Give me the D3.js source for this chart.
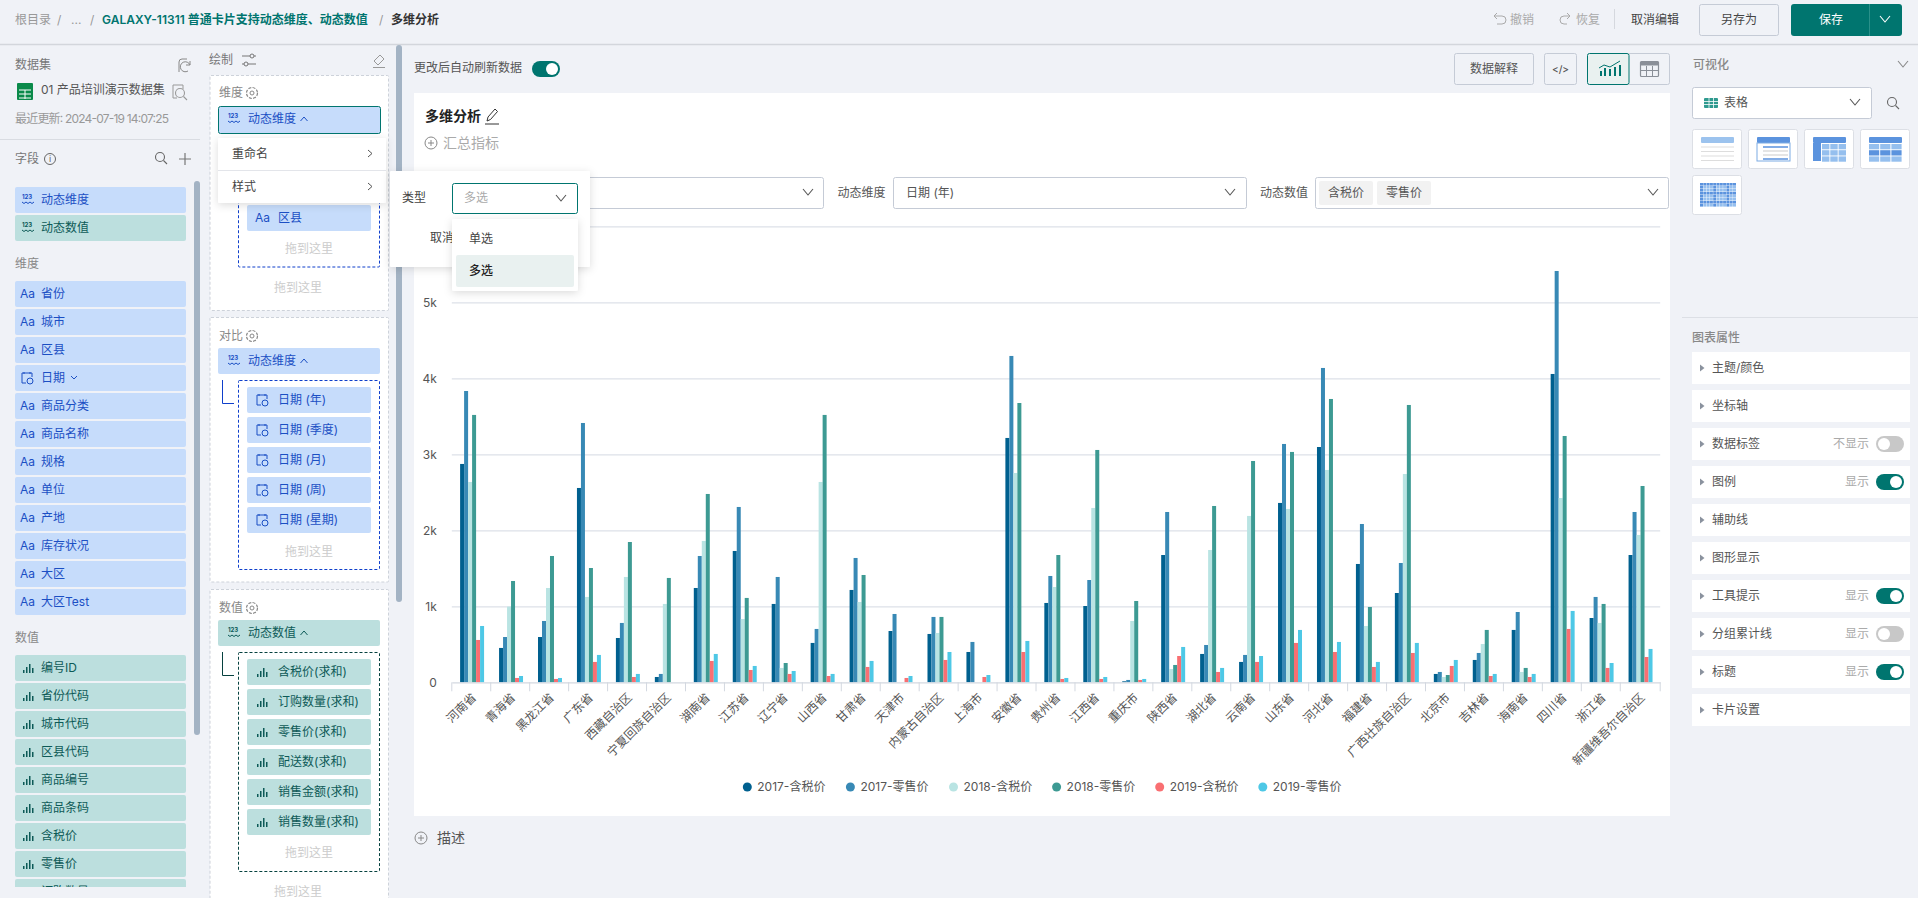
<!DOCTYPE html>
<html>
<head>
<meta charset="utf-8">
<script src="https://cdn.jsdelivr.net/npm/d3@7"></script>
<style>
html, body { margin: 0; padding: 0; background: #f0f2f7; overflow: hidden; }
svg { display: block; font-family: Inter, 'Noto Sans CJK SC', sans-serif; }
</style>
</head>
<body>
<svg id="page" width="1918" height="898"></svg>
<script>
const teal = '#00756f';
const blueText = '#1b4fc4';
const tealText = '#0d5a57';
const chipBlue = '#c6dcfb';
const chipTeal = '#bcdfde';
const border = '#c5cbd6';

// values: 2017 / 2018 / 2019, tax price and retail price
const seriesNames = ['2017-含税价', '2017-零售价', '2018-含税价', '2018-零售价', '2019-含税价', '2019-零售价'];
const seriesColours = ['#00608f', '#3889b5', '#b9e4e3', '#3d9a93', '#f96f72', '#4ec8e6'];
const plotData = [
    { name: '河南省', v: [2873, 3833, 2636, 3518, 557, 741] },
    { name: '青海省', v: [452, 596, 996, 1333, 57, 83] },
    { name: '黑龙江省', v: [596, 807, 1241, 1662, 44, 57] },
    { name: '广东省', v: [2557, 3412, 1123, 1504, 268, 360] },
    { name: '西藏自治区', v: [583, 781, 1386, 1846, 70, 110] },
    { name: '宁夏回族自治区', v: [70, 110, 1031, 1373, 0, 0] },
    { name: '湖南省', v: [1241, 1662, 1860, 2478, 281, 373] },
    { name: '江苏省', v: [1728, 2307, 833, 1110, 162, 215] },
    { name: '辽宁省', v: [1031, 1386, 189, 254, 110, 149] },
    { name: '山西省', v: [518, 702, 2636, 3518, 83, 110] },
    { name: '甘肃省', v: [1215, 1636, 1057, 1412, 202, 281] },
    { name: '天津市', v: [675, 899, 0, 0, 57, 83] },
    { name: '内蒙古自治区', v: [636, 860, 649, 860, 294, 399] },
    { name: '上海市', v: [399, 531, 0, 0, 70, 96] },
    { name: '安徽省', v: [3215, 4294, 2754, 3675, 399, 544] },
    { name: '贵州省', v: [1044, 1399, 1254, 1675, 44, 57] },
    { name: '江西省', v: [1004, 1346, 2294, 3057, 44, 70] },
    { name: '重庆市', v: [13, 31, 807, 1070, 31, 44] },
    { name: '陕西省', v: [1675, 2241, 175, 228, 346, 465] },
    { name: '湖北省', v: [373, 491, 1741, 2320, 136, 189] },
    { name: '云南省', v: [268, 360, 2189, 2912, 268, 346] },
    { name: '山东省', v: [2360, 3136, 2281, 3031, 518, 689] },
    { name: '河北省', v: [3096, 4136, 2794, 3728, 399, 531] },
    { name: '福建省', v: [1557, 2083, 741, 991, 202, 268] },
    { name: '广西壮族自治区', v: [1175, 1570, 2741, 3649, 386, 518] },
    { name: '北京市', v: [110, 136, 70, 96, 215, 294] },
    { name: '吉林省', v: [294, 386, 504, 689, 83, 110] },
    { name: '海南省', v: [689, 925, 136, 189, 70, 110] },
    { name: '四川省', v: [4057, 5412, 2425, 3241, 702, 939] },
    { name: '浙江省', v: [846, 1123, 781, 1031, 189, 254] },
    { name: '新疆维吾尔自治区', v: [1675, 2241, 1939, 2583, 333, 439] },
];

const svg = d3.select('#page');

// small helpers for the app chrome around the chart
const rect = (g, x, y, w, h, fill, opts = {}) => g.append('rect')
    .attr('x', x).attr('y', y).attr('width', w).attr('height', h)
    .attr('rx', opts.rx === undefined ? 2 : opts.rx)
    .attr('fill', fill)
    .attr('stroke', opts.stroke || 'none')
    .attr('stroke-width', opts.sw || 1)
    .attr('stroke-dasharray', opts.dash || null)
    .attr('filter', opts.shadow ? 'url(#shadow)' : null);
const text = (g, x, y, s, fill = '#555', size = 12, opts = {}) => g.append('text')
    .attr('x', x).attr('y', y)
    .attr('dy', '0.36em')
    .attr('fill', fill)
    .attr('font-size', size)
    .attr('font-weight', opts.weight || 400)
    .attr('text-anchor', opts.anchor || 'start')
    .text(s);
const stroke = (g, d, col = '#555', sw = 1) => g.append('path')
    .attr('d', d).attr('fill', 'none').attr('stroke', col).attr('stroke-width', sw);
const chevron = (g, x, y, col = '#555') => stroke(g, `M${x - 5},${y - 3}L${x},${y + 3}L${x + 5},${y - 3}`, col, 1.1);
const caretUp = (g, x, y, col) => stroke(g, `M${x - 3.5},${y + 2}L${x},${y - 2}L${x + 3.5},${y + 2}`, col, 1);
const toggle = (g, x, y, on) => {
    rect(g, x, y, 28, 16, on ? teal : '#c8c8c8', { rx: 8 });
    g.append('circle').attr('cx', on ? x + 20 : x + 8).attr('cy', y + 8).attr('r', 6).attr('fill', '#fff');
};
const gear = (g, x, y) => {
    g.append('circle').attr('cx', x).attr('cy', y).attr('r', 5.5).attr('fill', 'none').attr('stroke', '#888').attr('stroke-width', 1.2).attr('stroke-dasharray', '3 1.3');
    g.append('circle').attr('cx', x).attr('cy', y).attr('r', 2).attr('fill', 'none').attr('stroke', '#888');
};
const dynIcon = (g, x, y, col) => {
    text(g, x, y - 3, '123', col, 6, { weight: 700 });
    stroke(g, `M${x},${y + 2}q2,3 4,0q2,3 4,0q2,3 4,0`, col, 1);
};
const aaIcon = (g, x, y) => text(g, x, y, 'Aa', blueText, 12);
const barIcon = (g, x, y, col = tealText) => {
    [3, 6, 9, 5].forEach((h, i) => rect(g, x + i * 3, y + 5 - h, 1.5, h, col, { rx: 0 }));
};
const dateIcon = (g, x, y) => {
    stroke(g, `M${x + 3},${y + 5}h-4v-10h10v4M${x + 1},${y - 6}v2M${x + 7},${y - 6}v2`, blueText, 1);
    g.append('circle').attr('cx', x + 7).attr('cy', y + 3).attr('r', 3).attr('fill', 'none').attr('stroke', blueText);
};
const plusCircle = (g, x, y) => {
    g.append('circle').attr('cx', x).attr('cy', y).attr('r', 6).attr('fill', 'none').attr('stroke', '#888');
    stroke(g, `M${x - 3},${y}h6M${x},${y - 3}v6`, '#888', 1);
};
const search = (g, x, y, col = '#666') => {
    g.append('circle').attr('cx', x - 1).attr('cy', y - 1).attr('r', 4.5).attr('fill', 'none').attr('stroke', col).attr('stroke-width', 1.1);
    stroke(g, `M${x + 2.5},${y + 2.5}l3.5,3.5`, col, 1.1);
};

const defs = svg.append('defs');
const shadow = defs.append('filter').attr('id', 'shadow').attr('x', '-10%').attr('y', '-15%').attr('width', '120%').attr('height', '130%');
shadow.append('feDropShadow').attr('dx', 0).attr('dy', 2).attr('stdDeviation', 4).attr('flood-color', '#000').attr('flood-opacity', 0.14);
const leftClip = defs.append('clipPath').attr('id', 'leftClip');
leftClip.append('rect').attr('x', 0).attr('y', 170).attr('width', 192).attr('height', 717);

// top bar
const topBar = svg.append('g');
stroke(topBar, 'M0,44.5H1918', '#d3d6dc', 1.5);
text(topBar, 15, 20, '根目录', '#999');
text(topBar, 57, 20, '/', '#999');
text(topBar, 71, 20, '...', '#999');
text(topBar, 90, 20, '/', '#999');
text(topBar, 102, 20, 'GALAXY-11311 普通卡片支持动态维度、动态数值', teal, 12, { weight: 600 });
text(topBar, 379, 20, '/', '#999');
text(topBar, 391, 20, '多维分析', '#333', 12, { weight: 600 });
stroke(topBar, 'M1495,16h7a4,4 0 0 1 0,8h-5M1497,13l-3,3l3,3', '#aaa');
text(topBar, 1510, 20, '撤销', '#aaa');
stroke(topBar, 'M1569,16h-5a4,4 0 0 0 0,8h3M1567,13l3,3l-3,3', '#aaa');
text(topBar, 1576, 20, '恢复', '#aaa');
stroke(topBar, 'M1614.5,9V29', '#d5d8de');
text(topBar, 1631, 20, '取消编辑', '#444');
rect(topBar, 1699.5, 4.5, 79, 31, '#f0f2f7', { stroke: border });
text(topBar, 1739, 20, '另存为', '#444', 12, { anchor: 'middle' });
rect(topBar, 1791, 4, 111, 32, teal, { rx: 3 });
stroke(topBar, 'M1869.5,4V36', '#2a908a');
text(topBar, 1831, 20, '保存', '#fff', 12, { anchor: 'middle' });
chevron(topBar, 1885, 19, '#fff');

// left panel: dataset and fields
const leftPanel = svg.append('g');
text(leftPanel, 15, 65, '数据集', '#777');
stroke(leftPanel, 'M179,72v-10q0,-3 3,-3h5M190,65a5,5 0 1 0 -2,6M190,61v4h-4', '#888');
rect(leftPanel, 17, 83, 16, 17, '#0a8a4a', { rx: 1 });
stroke(leftPanel, 'M19,90h12M19,94h12M19,98h12M25,90v9', '#fff');
text(leftPanel, 41, 90, '01 产品培训演示数据集', '#555');
stroke(leftPanel, 'M177,98h-4v-13h10v4', '#999');
search(leftPanel, 181, 94, '#999');
text(leftPanel, 15, 119, '最近更新: 2024-07-19 14:07:25', '#999', 12).attr('textLength', 154).attr('lengthAdjust', 'spacing');
stroke(leftPanel, 'M0,139.5H200', '#d9dce2');
text(leftPanel, 15, 159, '字段', '#777');
leftPanel.append('circle').attr('cx', 50).attr('cy', 159).attr('r', 5.5).attr('fill', 'none').attr('stroke', '#666');
text(leftPanel, 50, 159, 'i', '#666', 9, { anchor: 'middle' });
search(leftPanel, 161, 158);
stroke(leftPanel, 'M179,159h12M185,153v12', '#777', 1.2);

const leftList = leftPanel.append('g').attr('clip-path', 'url(#leftClip)');
const fieldChip = (y, label, kind) => {
    const isBlue = kind !== 'num' && kind !== 'dynNum';
    rect(leftList, 15, y, 171, 26, isBlue ? chipBlue : chipTeal);
    const col = isBlue ? blueText : tealText;
    if (kind === 'dim') aaIcon(leftList, 20, y + 13);
    if (kind === 'date') dateIcon(leftList, 23, y + 13);
    if (kind === 'num') barIcon(leftList, 23, y + 13);
    if (kind === 'dyn' || kind === 'dynNum') dynIcon(leftList, 22, y + 13, col);
    text(leftList, 41, y + 13, label, col);
};
fieldChip(187, '动态维度', 'dyn');
fieldChip(215, '动态数值', 'dynNum');
text(leftPanel, 15, 264, '维度', '#888');
['省份', '城市', '区县', '日期', '商品分类', '商品名称', '规格', '单位', '产地', '库存状况', '大区', '大区Test'].forEach((f, i) => {
    fieldChip(281 + i * 28, f, f === '日期' ? 'date' : 'dim');
});
stroke(leftPanel, 'M71,376l3,3l3,-3', blueText, 1);
text(leftPanel, 15, 638, '数值', '#888');
['编号ID', '省份代码', '城市代码', '区县代码', '商品编号', '商品条码', '含税价', '零售价', '订购数量'].forEach((f, i) => {
    fieldChip(655 + i * 28, f, 'num');
});
rect(leftPanel, 194, 181, 6, 554, '#a3b3c4', { rx: 3 });

// middle panel: encoding shelves
const mid = svg.append('g');
text(mid, 209, 60, '绘制', '#777');
stroke(mid, 'M242,56h14M242,64h14', '#777');
mid.append('circle').attr('cx', 252).attr('cy', 56).attr('r', 2).attr('fill', '#f0f2f7').attr('stroke', '#777');
mid.append('circle').attr('cx', 246).attr('cy', 64).attr('r', 2).attr('fill', '#f0f2f7').attr('stroke', '#777');
stroke(mid, 'M374,61l6,-6l4,4l-6,6zM373,67.5h12', '#999');

const card = (y, h) => rect(mid, 210, y, 178.5, h, '#fff', { stroke: '#cdd2da', dash: '3 2', rx: 1 });
card(75.5, 235);
card(317.5, 264.5);
card(589.5, 320);

const shelfChip = (y, label, fill, col, activeBorder) => {
    rect(mid, activeBorder ? 218.5 : 218, activeBorder ? y + 0.5 : y, 162, activeBorder ? 27 : 26, fill, { stroke: activeBorder ? teal : null });
    dynIcon(mid, 228, y + 13, col);
    text(mid, 248, y + 13, label, col);
    caretUp(mid, 304, y + 13, col);
};
const dropHint = (x, y) => text(mid, x, y, '拖到这里', '#ccc', 12, { anchor: 'middle' });

text(mid, 219, 93, '维度', '#888');
gear(mid, 252, 93);
shelfChip(106, '动态维度', chipBlue, blueText, true);
rect(mid, 238.5, 140, 141, 127, 'none', { stroke: '#0f3fcb', dash: '3 2', rx: 1 });
rect(mid, 247, 205, 124, 26, chipBlue);
aaIcon(mid, 255, 218);
text(mid, 278, 218, '区县', blueText);
dropHint(309, 249);
dropHint(298, 288);

text(mid, 219, 336, '对比', '#888');
gear(mid, 252, 336);
shelfChip(348, '动态维度', chipBlue, blueText);
stroke(mid, 'M222.5,380V403.5H234', '#0f3fcb');
rect(mid, 238.5, 380.5, 141, 189, 'none', { stroke: '#0f3fcb', dash: '3 2', rx: 1 });
['日期 (年)', '日期 (季度)', '日期 (月)', '日期 (周)', '日期 (星期)'].forEach((f, i) => {
    const y = 387 + i * 30;
    rect(mid, 247, y, 124, 26, chipBlue);
    dateIcon(mid, 258, y + 13);
    text(mid, 278, y + 13, f, blueText);
});
dropHint(309, 552);

text(mid, 219, 608, '数值', '#888');
gear(mid, 252, 608);
shelfChip(620, '动态数值', chipTeal, tealText);
stroke(mid, 'M222.5,652V675.5H234', '#06413f');
rect(mid, 238.5, 652.5, 141, 219, 'none', { stroke: '#06413f', dash: '3 2', rx: 1 });
['含税价(求和)', '订购数量(求和)', '零售价(求和)', '配送数(求和)', '销售金额(求和)', '销售数量(求和)'].forEach((f, i) => {
    const y = 659 + i * 30;
    rect(mid, 247, y, 124, 26, chipTeal);
    barIcon(mid, 257, y + 13);
    text(mid, 278, y + 13, f, tealText);
});
dropHint(309, 853);
dropHint(298, 892);
rect(mid, 396, 45, 6, 557, '#a3b3c4', { rx: 3 });

// right panels
const rightPanel = svg.append('g');
text(rightPanel, 1693, 65, '可视化', '#888', 12, { weight: 500 });
chevron(rightPanel, 1903, 64, '#888');
rect(rightPanel, 1692.5, 87.5, 179, 31, '#fff', { stroke: border });
rect(rightPanel, 1704, 98, 14, 10, '#2f9a8f', { rx: 1 });
stroke(rightPanel, 'M1704,101.5h14M1704,104.5h14M1709,98v10M1713.5,98v10', '#fff', 0.8);
text(rightPanel, 1724, 103, '表格', '#555');
chevron(rightPanel, 1855, 102);
search(rightPanel, 1893, 103);

const tiles = [[1693, 129], [1749, 129], [1805, 129], [1861, 129], [1693, 175]];
tiles.forEach(([x, y], k) => {
    rect(rightPanel, x - 0.5, y + 0.5, 49, 39, '#fff', { stroke: '#dcdfe5' });
    const ix = x + 8;
    const iy = y + 8;
    if (k === 4) {
        d3.range(8).forEach((r) => d3.range(11).forEach((c) => {
            rect(rightPanel, x + 7 + c * 3.3, y + 8 + r * 3, 3, 2.6, (c % 4 === 0 || r % 3 === 0) ? '#5b93de' : '#95bfee', { rx: 0 });
        }));
        return;
    }
    rect(rightPanel, ix, iy, 33, 6, k === 0 ? '#9cc3ee' : '#5b93de', { rx: 1 });
    if (k === 0) {
        d3.range(4).forEach((r) => stroke(rightPanel, `M${ix},${iy + 10 + r * 4.5}h33`, '#ddd', 1));
    } else if (k === 1) {
        rect(rightPanel, ix, iy + 6, 33, 18, '#fff', { stroke: '#7dabe3', rx: 0 });
        stroke(rightPanel, `M${ix + 6},${iy + 10}h25M${ix + 6},${iy + 22}h25`, '#5b93de', 1.5);
        stroke(rightPanel, `M${ix + 6},${iy + 14}h25M${ix + 6},${iy + 18}h25`, '#ddd', 1.5);
    } else {
        d3.range(3).forEach((r) => d3.range(3).forEach((c) => {
            const cx = k === 2 ? ix + 9 + c * 8.3 : ix + c * 11.2;
            const w = k === 2 ? 7.4 : 10.2;
            rect(rightPanel, cx, iy + 7 + r * 6.2, w, 5.3, k === 3 && r === 1 ? '#5b93de' : '#95bfee', { rx: 0 });
        }));
        if (k === 2) rect(rightPanel, ix, iy + 6, 8, 18, '#5b93de', { rx: 0 });
    }
});

stroke(rightPanel, 'M1682,317.5H1918', '#dcdfe5');
text(rightPanel, 1692, 338, '图表属性', '#888', 12, { weight: 500 });
const props = [
    ['主题/颜色'], ['坐标轴'], ['数据标签', '不显示', false], ['图例', '显示', true], ['辅助线'],
    ['图形显示'], ['工具提示', '显示', true], ['分组累计线', '显示', false], ['标题', '显示', true], ['卡片设置'],
];
props.forEach(([label, note, on], i) => {
    const y = 352 + i * 38;
    rect(rightPanel, 1692, y, 218, 32, '#fff', { rx: 0 });
    rightPanel.append('path').attr('d', `M1700,${y + 12.5}l4.5,3.5l-4.5,3.5z`).attr('fill', '#8a929e');
    text(rightPanel, 1712, y + 16, label, '#555');
    if (note) {
        text(rightPanel, 1869, y + 16, note, '#aaa', 12, { anchor: 'end' });
        toggle(rightPanel, 1876, y + 8, on);
    }
});

// chart toolbar and card
const tool = svg.append('g');
text(tool, 414, 68, '更改后自动刷新数据', '#555');
toggle(tool, 532, 61, true);
rect(tool, 1454.5, 53.5, 79, 31, '#f0f2f7', { stroke: border });
text(tool, 1494, 69, '数据解释', '#555', 12, { anchor: 'middle' });
rect(tool, 1544.5, 53.5, 32, 31, '#f0f2f7', { stroke: border });
text(tool, 1560.5, 69, '</>', '#555', 10, { anchor: 'middle', weight: 500 });
rect(tool, 1628, 53.5, 41.5, 31, '#f0f2f7', { stroke: border });
rect(tool, 1587.5, 53.5, 41.5, 31, '#e9f1f0', { stroke: teal });
[[1600, 5], [1604, 8], [1609, 7], [1614, 9], [1619, 11]].forEach(([x, h]) => rect(tool, x, 76 - h, 2, h, teal, { rx: 0 }));
stroke(tool, 'M1599,68l5,-3l6,2l10,-6', teal, 1);
rect(tool, 1640.5, 61.5, 18, 15, 'none', { stroke: '#8a8f98', sw: 1.2, rx: 1 });
rect(tool, 1640.5, 61.5, 18, 4, '#8a8f98', { rx: 1 });
stroke(tool, 'M1640,70.5h18M1646.5,66v10M1652.5,66v10', '#8a8f98', 1);

const chartCard = svg.append('g');
rect(chartCard, 414, 93, 1256, 723, '#fff', { rx: 0 });
text(chartCard, 425, 116, '多维分析', '#222', 14, { weight: 600 });
stroke(chartCard, 'M487,121l1,-4l7,-8l2.5,2.5l-7,8zM485,124h14', '#333');
plusCircle(chartCard, 431, 143);
text(chartCard, 443, 143, '汇总指标', '#aaa', 14);
text(svg, 437, 838, '描述', '#555', 14);
plusCircle(svg, 421, 838);

// filter selects
const filters = svg.append('g');
rect(filters, 560.5, 177.5, 263, 31, '#fff', { stroke: border });
chevron(filters, 808, 192);
text(filters, 837.5, 193, '动态维度', '#555');
rect(filters, 893.5, 177.5, 353, 31, '#fff', { stroke: border });
text(filters, 906, 193, '日期 (年)', '#555');
chevron(filters, 1230, 192);
text(filters, 1260, 193, '动态数值', '#555');
rect(filters, 1315.5, 177.5, 353, 31, '#fff', { stroke: border });
rect(filters, 1319, 181, 54, 24, '#f2f2f2');
text(filters, 1346, 193, '含税价', '#555', 12, { anchor: 'middle' });
rect(filters, 1377, 181, 54, 24, '#f2f2f2');
text(filters, 1404, 193, '零售价', '#555', 12, { anchor: 'middle' });
chevron(filters, 1653, 192);

// the chart itself
const plot = { left: 451.8, right: 1660.2, top: 226.3, bottom: 682.3 };
const yScale = d3.scaleLinear().domain([0, 6000]).range([plot.bottom, plot.top]);
const xScale = d3.scaleBand()
    .domain(plotData.map(d => d.name))
    .range([plot.left, plot.right])
    .paddingInner(15 / 39)
    .paddingOuter(8 / 39)
    .align(0.52);
const seriesScale = d3.scaleBand().domain(d3.range(seriesNames.length)).range([0, xScale.bandwidth()]);

const chart = svg.append('g');
const yAxis = chart.append('g')
    .attr('transform', `translate(${plot.left},0)`)
    .call(d3.axisLeft(yScale)
        .tickValues(d3.range(0, 6001, 1000))
        .tickFormat(d => (d === 0 ? '0' : `${d / 1000}k`))
        .tickSize(0)
        .tickPadding(15));
yAxis.select('.domain').remove();
yAxis.selectAll('.tick text').attr('fill', '#555').attr('font-size', 12).attr('font-family', 'Inter');
yAxis.selectAll('.tick')
    .filter(d => d !== 0)
    .append('line')
    .attr('x2', plot.right - plot.left)
    .attr('stroke', '#dde1e8')
    .attr('stroke-width', 1.2);

chart.selectAll('.columnHolder')
    .data(plotData)
    .enter()
    .append('g')
    .attr('class', 'columnHolder')
    .attr('transform', d => `translate(${xScale(d.name)},0)`)
    .selectAll('rect')
    .data(d => d.v.map((v, i) => ({ v, i })).filter(c => c.v > 0))
    .enter()
    .append('rect')
    .attr('x', d => seriesScale(d.i))
    .attr('y', d => yScale(d.v))
    .attr('width', seriesScale.bandwidth())
    .attr('height', d => yScale(0) - yScale(d.v))
    .attr('fill', d => seriesColours[d.i]);

const xAxis = chart.append('g')
    .attr('transform', `translate(0,${plot.bottom})`)
    .call(d3.axisBottom(xScale).tickSize(0).tickSizeOuter(0));
xAxis.select('.domain').attr('stroke', '#d3d8e0').attr('stroke-width', 1.2);
xAxis.selectAll('.tick text')
    .attr('fill', '#555')
    .attr('font-size', 12)
    .attr('font-family', "'Noto Sans CJK SC', sans-serif")
    .attr('text-anchor', 'end')
    .attr('dy', '0.32em')
    .attr('transform', 'translate(0,11) rotate(-45)');
const tickEdges = plotData.map((d, i) => plot.left + i * xScale.step()).concat(plot.right);
chart.selectAll('.xDivider')
    .data(tickEdges)
    .enter()
    .append('line')
    .attr('class', 'xDivider')
    .attr('x1', d => d)
    .attr('x2', d => d)
    .attr('y1', plot.bottom)
    .attr('y2', plot.bottom + 9)
    .attr('stroke', '#d3d8e0');

// legend
const legendStep = 103.1;
const legend = chart.append('g')
    .selectAll('.legend')
    .data(seriesNames)
    .enter()
    .append('g')
    .attr('class', 'legend')
    .attr('transform', (d, i) => `translate(${747.3 + i * legendStep},787)`);
legend.append('circle').attr('r', 4.5).attr('fill', (d, i) => seriesColours[i]);
legend.append('text')
    .attr('x', 10)
    .attr('dy', '0.36em')
    .attr('fill', '#555')
    .attr('font-size', 12)
    .text(d => d);

// menus open on top of everything
const menus = svg.append('g');
rect(menus, 218, 138, 168, 65, '#fff', { shadow: true, rx: 1 });
stroke(menus, 'M218,170.5H386', '#e3e5ea');
text(menus, 232, 154, '重命名', '#444');
text(menus, 232, 187, '样式', '#444');
stroke(menus, 'M368,150l4,3.5l-4,3.5M368,183l4,3.5l-4,3.5', '#555');
rect(menus, 390, 171, 200, 96, '#fff', { shadow: true, rx: 1 });
text(menus, 402, 198, '类型', '#444');
rect(menus, 452.5, 183.5, 125, 30, '#fff', { stroke: teal });
text(menus, 464, 198, '多选', '#aaa');
chevron(menus, 561, 198);
text(menus, 430, 238, '取消', '#444');
rect(menus, 452, 219, 126, 72, '#fff', { shadow: true, rx: 2 });
text(menus, 469, 239, '单选', '#444');
rect(menus, 456, 255, 118, 32, '#e9f1f0');
text(menus, 469, 271, '多选', '#222', 12, { weight: 500 });
</script>
</body>
</html>
